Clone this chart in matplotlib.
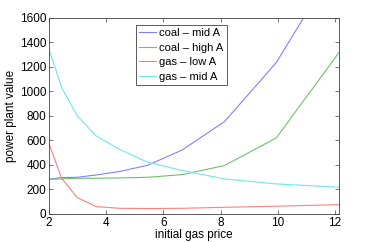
import matplotlib
matplotlib.use("Agg")
import matplotlib.pyplot as plt

plt.rcParams['font.family'] = ['Liberation Sans', 'DejaVu Sans']

# initial gas price grid (roughly geometric steps)
gas_price = [2.0, 2.44, 2.99, 3.65, 4.46, 5.45, 6.66, 8.14, 9.95, 12.16]

coal_mid_A = [283, 297, 299, 318, 346, 397, 522, 754, 1235, 2080]
coal_high_A = [283, 286, 291, 291, 294, 299, 321, 395, 620, 1322]
gas_low_A = [577, 291, 133, 60, 46, 44, 46, 54, 63, 76]
gas_mid_A = [1344, 1034, 800, 637, 528, 422, 354, 286, 245, 218]

labels = ["coal \u2013 mid A", "coal \u2013 high A", "gas \u2013 low A", "gas \u2013 mid A"]
colors = ["#8080ff", "#70c070", "#ff8080", "#70e6e6"]

fig = plt.figure(figsize=(3.74, 2.42), dpi=100)
ax = fig.add_axes([0.131, 0.116, 0.775, 0.81])

for series, lab, col in zip([coal_mid_A, coal_high_A, gas_low_A, gas_mid_A], labels, colors):
    ax.plot(gas_price, series, color=col, lw=0.8, label=lab)

ax.set_xlim(2, 12.14)
ax.set_ylim(0, 1600)
ax.set_xticks([2, 4, 6, 8, 10, 12])
ax.set_yticks(range(0, 1601, 200))
ax.tick_params(direction="in", top=True, right=True, labelsize=8.5, length=3,
               width=0.5, colors="#404040", labelcolor="black", pad=2)
for s in ax.spines.values():
    s.set_color("#404040")
    s.set_linewidth(0.6)

ax.set_xlabel("initial gas price", fontsize=8.5, labelpad=0)
ax.set_ylabel("power plant value", fontsize=8.5, labelpad=2)

leg = ax.legend(loc="upper left", bbox_to_anchor=(0.3, 0.964), fontsize=8,
                fancybox=False, framealpha=1, edgecolor="#404040",
                handlelength=1.5, handletextpad=0.3, labelspacing=0.4,
                borderpad=0.3, borderaxespad=0)
leg.get_frame().set_linewidth(0.6)

fig.savefig("out.png", dpi=100)
